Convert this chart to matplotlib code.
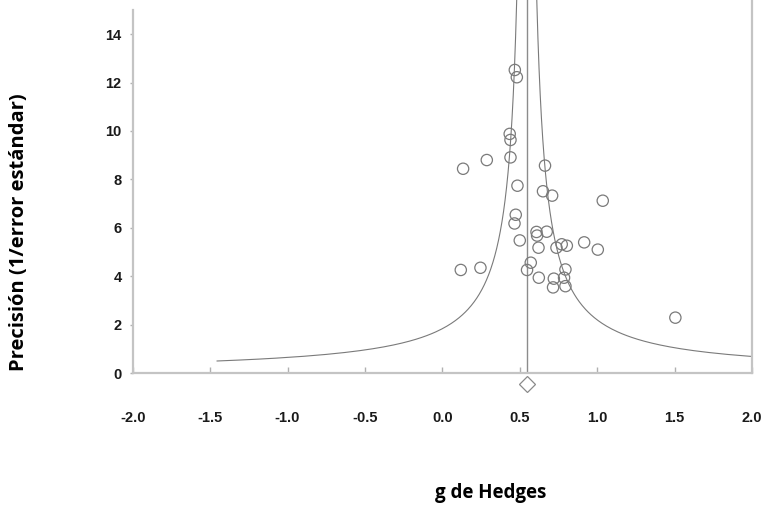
import numpy as np
import matplotlib
matplotlib.use("Agg")
import matplotlib.pyplot as plt

# -------------------------------------------
#  Data
# -------------------------------------------
hedges_g = [0.468, 0.481, 0.435, 0.440, 0.440, 0.134, 0.287, 0.663, 0.485,
            0.650, 0.709, 1.036, 0.474, 0.466, 0.608, 0.612, 0.674, 0.500,
            0.621, 0.737, 0.771, 0.804, 0.916, 1.004, 0.119, 0.246, 0.571,
            0.547, 0.623, 0.795, 0.720, 0.786, 0.715, 0.795, 1.505]
precision = [12.52, 12.22, 9.88, 9.63, 8.91, 8.44, 8.80, 8.57, 7.74,
             7.51, 7.33, 7.12, 6.54, 6.18, 5.83, 5.68, 5.84, 5.48,
             5.18, 5.18, 5.32, 5.26, 5.40, 5.10, 4.26, 4.35, 4.56,
             4.26, 3.94, 4.28, 3.90, 3.94, 3.54, 3.59, 2.29]
pooled_g = 0.545
diamond_y = -0.45

x_ticks = [-2.0, -1.5, -1.0, -0.5, 0.0, 0.5, 1.0, 1.5, 2.0]
y_ticks = [0, 2, 4, 6, 8, 10, 12, 14]

# -------------------------------------------
#  Figure
# -------------------------------------------
fig = plt.figure(figsize=(7.65, 5.09), dpi=100)
ax = fig.add_axes([0.1735, 0.267, 0.983 - 0.1735, 1.0 - 0.267])

# funnel limits around the pooled estimate
p = np.linspace(0.5, 16, 400)
ax.plot(pooled_g - 1 / p, p, color="#7a7a7a", lw=0.8)
ax.plot(pooled_g + 1 / p, p, color="#7a7a7a", lw=0.8)
ax.axvline(pooled_g, color="#8c8c8c", lw=1.0)

ax.scatter(hedges_g, precision, s=66, facecolors="none",
           edgecolors="#7a7a7a", linewidths=0.9, zorder=3)

ax.plot([pooled_g], [diamond_y], marker="D", ms=8.5, mfc="white",
        mec="#8a8a8a", mew=0.9, clip_on=False, zorder=4)

ax.set_xlim(-2, 2)
ax.set_ylim(0, 15.41)

for side in ["left", "right", "bottom"]:
    ax.spines[side].set_color("#c4c4c4")
    ax.spines[side].set_linewidth(1.6)
ax.spines["top"].set_visible(False)
ax.spines["left"].set_bounds(0, 15)

ax.set_xticks(x_ticks)
ax.set_xticklabels([f"{v:.1f}" for v in x_ticks])
ax.set_yticks(y_ticks)
ax.set_yticklabels([str(v) for v in y_ticks])

ax.tick_params(axis="x", direction="in", length=4, width=1, color="#b0b0b0",
               pad=27, labelsize=10.5)
ax.tick_params(axis="y", direction="out", length=2, width=1, color="#b0b0b0",
               pad=6, labelsize=10.5)
for lab in ax.get_xticklabels() + ax.get_yticklabels():
    lab.set_fontfamily("Liberation Sans")
    lab.set_fontweight("bold")
    lab.set_color("#1a1a1a")

fig.text(0.642, 1 - 493 / 509, "g de Hedges", ha="center", va="center",
         fontsize=13.5, fontweight="bold", family="Open Sans")
fig.text(0.025, 1 - 232 / 509, "Precisión (1/error estándar)", ha="center",
         va="center", rotation=90, fontsize=14.5, fontweight="bold",
         family="Open Sans")

fig.savefig("out.png", dpi=100)
